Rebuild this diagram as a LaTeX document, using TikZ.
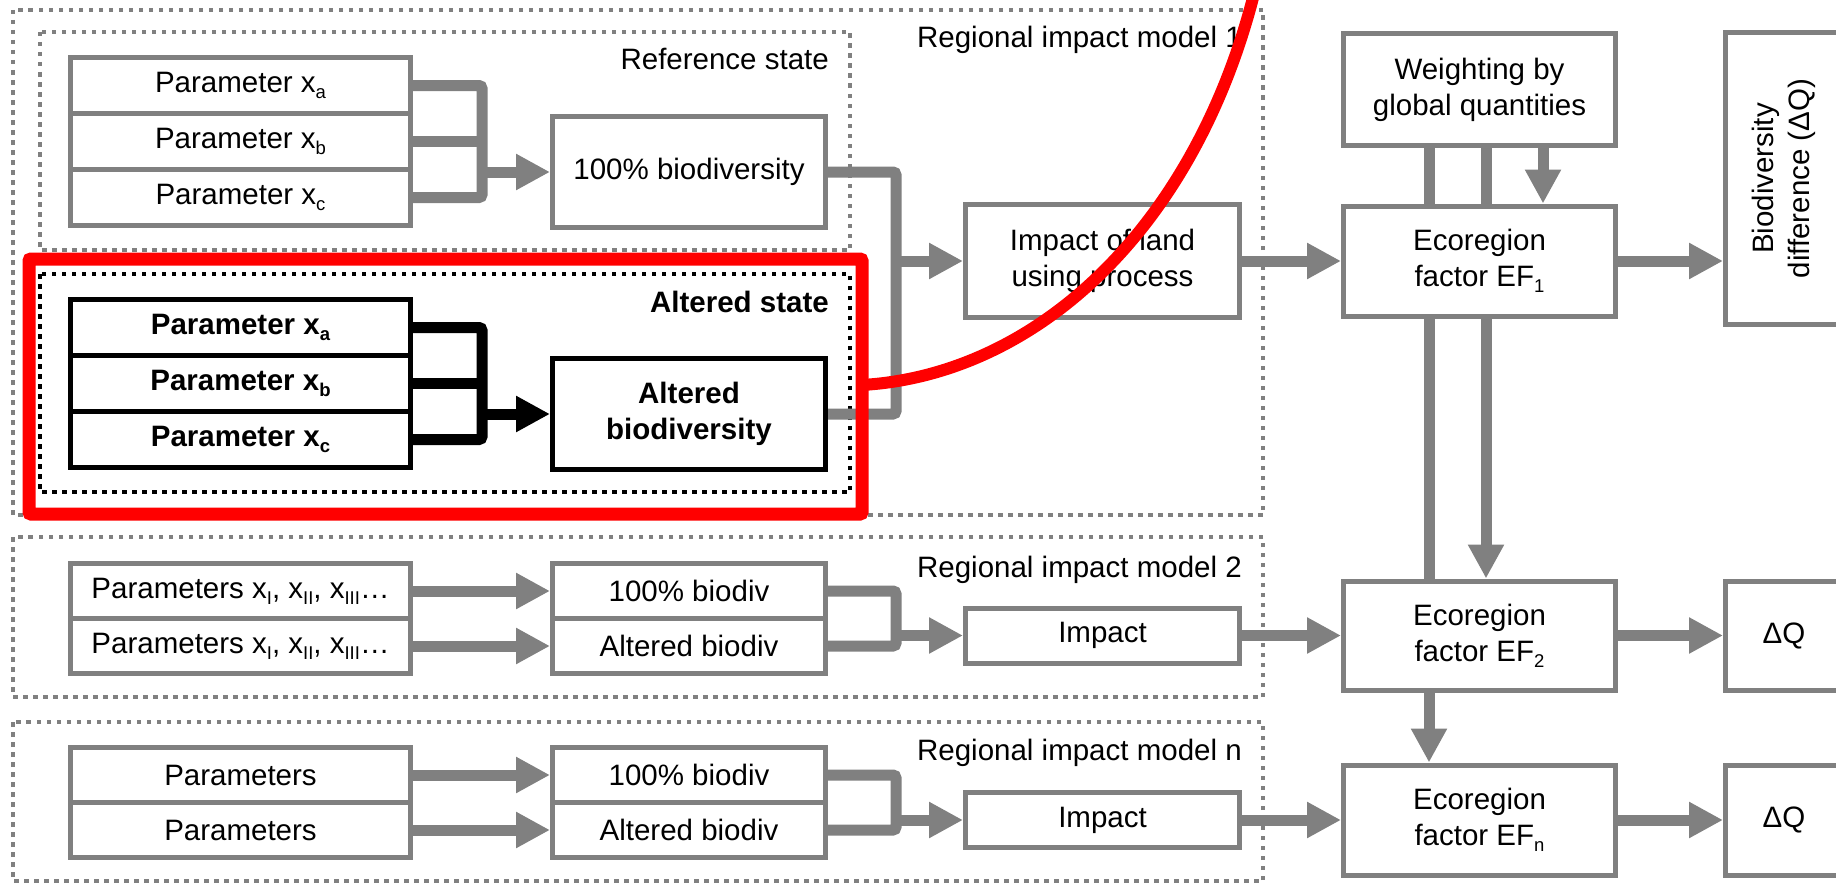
\documentclass[tikz,border=0pt]{standalone}
\usepackage{fontspec}
\setmainfont{Liberation Sans}
\usepackage{graphicx}
\usetikzlibrary{positioning, arrows.meta, backgrounds}
\definecolor{boxgray}{HTML}{808080}
\definecolor{calloutred}{HTML}{FF0000}
\newcommand{\sbs}[1]{\raisebox{-6pt}{\fontsize{18.5}{18.5}\selectfont #1}}

\begin{document}
\begin{tikzpicture}[
	x=1pt, y=-1pt,
	font=\fontsize{29.5}{36}\selectfont,
	box/.style = {rectangle, draw=#1, fill=white, line width=5pt,
		align=center, inner sep=0pt},
	box/.default = boxgray,
	param/.style = {box=#1, minimum width=340pt},
	param/.default = boxgray,
	biobox/.style = {box=#1, minimum width=273pt},
	biobox/.default = boxgray,
	wide/.style = {box, minimum width=272pt},
	heavy/.style = {font=\fontsize{29.5}{36}\selectfont\bfseries},
	dotframe/.style = {draw=#1, line width=4pt, dash pattern=on 4.5pt off 5.5pt},
	dotframe/.default = boxgray,
	framelabel/.style = {anchor=base east, inner sep=0pt},
	conn/.style = {draw=#1, line width=11pt, rounded corners=3pt},
	conn/.default = boxgray,
	arr/.style = {conn=#1, -{Triangle[length=34pt, width=34pt]}},
	arr/.default = boxgray
	]
	\useasboundingbox (0,0) rectangle (1836,883);
	
	% regional impact model 1
	\draw[dotframe] (13,10) rectangle (1263,515);
	\node (m1lab) [framelabel] at (1242,48) {Regional impact model 1};
	\draw[dotframe] (40,32) rectangle (850,250);
	\node (reflab) [framelabel] at (829,70) {Reference state};
	\node (pa) [param, minimum height=56pt] at (240.5,85.5) {Parameter x\sbs{a}};
	\node (pb) [param, minimum height=56pt, below=-5pt of pa] {Parameter x\sbs{b}};
	\node (pc) [param, minimum height=56pt, below=-5pt of pb] {Parameter x\sbs{c}};
	\node (bio) [biobox, minimum height=111pt, right=137pt of pb.south east] {100\% biodiversity};
	%
	\draw[dotframe=black] (40,274) rectangle (850,492);
	\node (altlab) [framelabel, heavy] at (829,312) {Altered state};
	\node (apa) [param=black, heavy, minimum height=56pt] at (240.5,327.5) {Parameter x\sbs{a}};
	\node (apb) [param=black, heavy, minimum height=56pt, below=-5pt of apa] {Parameter x\sbs{b}};
	\node (apc) [param=black, heavy, minimum height=56pt, below=-5pt of apb] {Parameter x\sbs{c}};
	\node (abio) [biobox=black, heavy, minimum height=111pt, right=137pt of apb.south east] {Altered\\biodiversity};
	
	% global part
	\node (ef1) [wide, minimum height=110pt] at (1479.5,261) {Ecoregion\\factor EF\sbs{1}};
	\node (wt) [wide, minimum height=111pt, above=56pt of ef1] {Weighting by\\global quantities};
	\node (imp1) [box, minimum width=274pt, minimum height=113pt, left=99pt of ef1] {Impact of land\\using process};
	\node (bd) [box, minimum width=117pt, minimum height=292pt] at (1784,178.5)
		{\rotatebox{90}{\begin{tabular}{@{}c@{}}Biodiversity\\difference (ΔQ)\end{tabular}}};
	
	% regional impact model 2
	\draw[dotframe] (13,537) rectangle (1263,697);
	\node (m2lab) [framelabel] at (1242,577) {Regional impact model 2};
	\node (p2a) [param, minimum height=55pt] at (240.5,591) {Parameters x\sbs{I}, x\sbs{II}, x\sbs{III}…};
	\node (p2b) [param, minimum height=55pt, below=-5pt of p2a] {Parameters x\sbs{I}, x\sbs{II}, x\sbs{III}…};
	\node (b2a) [biobox, minimum height=55pt, right=137pt of p2a] {100\% biodiv};
	\node (b2b) [biobox, minimum height=55pt, right=137pt of p2b] {Altered biodiv};
	\node (ef2) [wide, minimum height=109pt, below=260pt of ef1] {Ecoregion\\factor EF\sbs{2}};
	\node (imp2) [box, minimum width=274pt, minimum height=55pt, left=99pt of ef2] {Impact};
	\node (dq2) [box, minimum width=117pt, minimum height=109pt, right=105pt of ef2] {ΔQ};
	
	% regional impact model n
	\draw[dotframe] (13,722) rectangle (1263,881);
	\node (mnlab) [framelabel] at (1242,760) {Regional impact model n};
	\node (pna) [param, minimum height=55pt] at (240.5,775) {Parameters};
	\node (pnb) [param, minimum height=55pt, below=-5pt of pna] {Parameters};
	\node (bna) [biobox, minimum height=55pt, right=137pt of pna] {100\% biodiv};
	\node (bnb) [biobox, minimum height=55pt, right=137pt of pnb] {Altered biodiv};
	\node (efn) [wide, minimum height=110pt, below=70pt of ef2] {Ecoregion\\factor EF\sbs{n}};
	\node (impn) [box, minimum width=274pt, minimum height=55pt, left=99pt of efn] {Impact};
	\node (dqn) [box, minimum width=117pt, minimum height=110pt, right=105pt of efn] {ΔQ};
	
	% connectors
	\coordinate (rj) at ([xshift=69pt]pa.east);
	\draw[conn] (pa.east) -- (rj) |- (pc.east);
	\draw[conn] (pb.east) -- (rj |- pb.east);
	\draw[arr] (rj |- bio.west) -- (bio.west);
	\coordinate (aj) at ([xshift=69pt]apa.east);
	\draw[conn=black] (apa.east) -- (aj) |- (apc.east);
	\draw[conn=black] (apb.east) -- (aj |- apb.east);
	\draw[arr=black] (aj |- abio.west) -- (abio.west);
	\coordinate (j1) at ([xshift=68pt]bio.east);
	\draw[conn] (bio.east) -- (j1) |- (abio.east);
	\draw[arr] (j1 |- imp1.west) -- (imp1.west);
	\draw[arr] (imp1) -- (ef1);
	\draw[arr] (ef1.east) -- (ef1.east -| bd.west);
	%
	\draw[arr] (p2a) -- (b2a);
	\draw[arr] (p2b) -- (b2b);
	\coordinate (j2) at ([xshift=68pt]b2a.east);
	\draw[conn] (b2a.east) -- (j2) |- (b2b.east);
	\draw[arr] (j2 |- imp2.west) -- (imp2.west);
	\draw[arr] (imp2) -- (ef2);
	\draw[arr] (ef2) -- (dq2);
	%
	\draw[arr] (pna) -- (bna);
	\draw[arr] (pnb) -- (bnb);
	\coordinate (jn) at ([xshift=68pt]bna.east);
	\draw[conn] (bna.east) -- (jn) |- (bnb.east);
	\draw[arr] (jn |- impn.west) -- (impn.west);
	\draw[arr] (impn) -- (efn);
	\draw[arr] (efn) -- (dqn);
	%
	\begin{scope}[on background layer]
		\draw[arr] ([xshift=-50.5pt]wt.south) -- ([xshift=-50.5pt]efn.north);
		\draw[arr] ([xshift=6.5pt]wt.south) -- ([xshift=6.5pt]ef2.north);
	\end{scope}
	\draw[arr] ([xshift=63.5pt]wt.south) -- ([xshift=63.5pt]ef1.north);
	
	% zoom callout
	\draw[calloutred, line width=13pt, rounded corners=2pt] (29,259) rectangle (862,514);
	\draw[calloutred, line width=12pt] (862,385) .. controls (1035,375) and (1195,230) .. (1255,-10);
\end{tikzpicture}
\end{document}
